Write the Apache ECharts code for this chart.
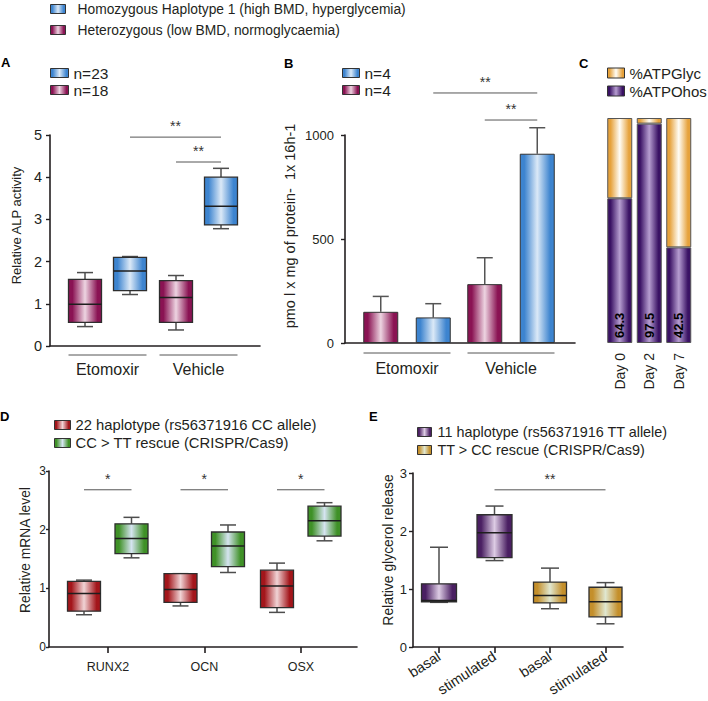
<!DOCTYPE html>
<html><head><meta charset="utf-8">
<script src="https://cdn.jsdelivr.net/npm/echarts@6/dist/echarts.min.js"></script>
<style>html,body{margin:0;padding:0;background:#fff}#c{width:708px;height:701px}</style>
</head><body><div id="c"></div>
<script>
// ---------------- Data ----------------
const groupsAB = ['Etomoxir', 'Vehicle'];
const homName = 'Homozygous Haplotype 1 (high BMD, hyperglycemia)';
const hetName = 'Heterozygous (low BMD, normoglycaemia)';
// Panel A: relative ALP activity, box = [min, Q1, median, Q3, max]
const alpHom = [[1.22, 1.31, 1.78, 2.10, 2.12], [2.78, 2.87, 3.31, 4.00, 4.21]];
const alpHet = [[0.46, 0.56, 0.99, 1.58, 1.74], [0.38, 0.56, 1.15, 1.55, 1.67]];
const nA = ['n=23', 'n=18'];
// Panel B: oxidation (mean, error)
const oxHom = [123, 910];
const oxHomErr = [66, 125];
const oxHet = [150, 283];
const oxHetErr = [74, 127];
const nB = ['n=4', 'n=4'];
// Panel C: ATP sources (%)
const days = ['Day 0', 'Day 2', 'Day 7'];
const atpOhos = [64.3, 97.5, 42.5];
const atpGlyc = [35.7, 2.5, 57.5];
// Panel D: relative mRNA level, box = [min, Q1, median, Q3, max]
const genes = ['RUNX2', 'OCN', 'OSX'];
const mrnaCC = [[0.55, 0.61, 0.91, 1.12, 1.14], [0.70, 0.76, 0.98, 1.25, 1.25], [0.59, 0.67, 1.04, 1.31, 1.43]];
const mrnaTT = [[1.52, 1.59, 1.85, 2.10, 2.21], [1.27, 1.37, 1.72, 1.96, 2.08], [1.81, 1.89, 2.15, 2.40, 2.46]];
// Panel E: relative glycerol release, box = [min, Q1, median, Q3, max]
const conditions = ['basal', 'stimulated', 'basal', 'stimulated'];
const glycTT = [[0.77, 0.78, 0.80, 1.09, 1.72], [1.49, 1.54, 1.97, 2.28, 2.43]];   // categories 0,1
const glycCC = [[0.66, 0.76, 0.89, 1.12, 1.36], [0.40, 0.52, 0.78, 1.03, 1.11]];   // categories 2,3
// Significance bars: [fromCategory, fromSlot, toCategory, toSlot, height]
const sigA = [[0, 1, 1, 1, 4.95], [1, 0, 1, 1, 4.36]];
const sigALabels = ['**', '**'];
const sigB = [[0, 1, 1, 1, 1202], [1, 0, 1, 1, 1072]];
const sigBLabels = ['**', '**'];
const sigD = [[0, 0, 0, 1, 2.68], [1, 0, 1, 1, 2.68], [2, 0, 2, 1, 2.68]];
const sigDLabels = ['*', '*', '*'];
const sigE = [[1, 0, 3, 0, 2.71]];
const sigELabels = ['**'];

// ---------------- Styling helpers ----------------
const FONT = 'Liberation Sans, Arial, Helvetica, sans-serif';
const INK = '#231f20';
const C = {
  blue: ['#3d84cf', '#dbe9f7'],
  mag: ['#8a1353', '#edd4e1'],
  red: ['#a3161b', '#f0d3d5'],
  green: ['#3f9127', '#d5e4f0'],
  purp: ['#4a1f62', '#ddcce4'],
  gold: ['#c48f2b', '#e0e7d0'],
  cPurp: ['#3a1264', '#b69dd0'],
  cOr: ['#e6a23c', '#fffdf6']
};
function grad(c) {
  return new echarts.graphic.LinearGradient(0, 0, 1, 0, [
    { offset: 0, color: c[0] }, { offset: 0.12, color: c[0] },
    { offset: 0.5, color: c[1] },
    { offset: 0.88, color: c[0] }, { offset: 1, color: c[0] }
  ]);
}
function legendItem(name, c) {
  return { name: name, icon: 'rect', itemStyle: { color: grad(c), borderColor: '#333', borderWidth: 1 } };
}

function boxRender(offset, w, cap, c) {
  return function (params, api) {
    const cat = api.value(0);
    const x = api.coord([cat, 0])[0] + offset;
    const y = (d) => api.coord([cat, api.value(d)])[1];
    const yMin = y(1), yQ1 = y(2), yMed = y(3), yQ3 = y(4), yMax = y(5);
    const wl = { stroke: '#4d4d4d', lineWidth: 1.5 };
    return {
      type: 'group', children: [
        { type: 'line', shape: { x1: x, y1: yMax, x2: x, y2: yQ3 }, style: wl },
        { type: 'line', shape: { x1: x, y1: yQ1, x2: x, y2: yMin }, style: wl },
        { type: 'line', shape: { x1: x - cap / 2, y1: yMax, x2: x + cap / 2, y2: yMax }, style: wl },
        { type: 'line', shape: { x1: x - cap / 2, y1: yMin, x2: x + cap / 2, y2: yMin }, style: wl },
        { type: 'rect', shape: { x: x - w / 2, y: yQ3, width: w, height: yQ1 - yQ3 }, style: { fill: grad(c), stroke: '#2e2e2e', lineWidth: 1.3 } },
        { type: 'line', shape: { x1: x - w / 2, y1: yMed, x2: x + w / 2, y2: yMed }, style: { stroke: '#1e1e1e', lineWidth: 1.5 } }
      ]
    };
  };
}
function sigRender(slots, labels, fs) {
  return function (params, api) {
    const p1 = api.coord([api.value(0), api.value(4)]);
    const p2 = api.coord([api.value(2), api.value(4)]);
    const x1 = p1[0] + slots[api.value(1)], x2 = p2[0] + slots[api.value(3)];
    return {
      type: 'group', children: [
        { type: 'line', shape: { x1: x1, y1: p1[1], x2: x2, y2: p1[1] }, style: { stroke: '#555', lineWidth: 1 } },
        { type: 'text', style: { text: labels[params.dataIndex], x: (x1 + x2) / 2, y: p1[1] - 4, align: 'center', verticalAlign: 'bottom', fill: '#333', font: fs + 'px ' + FONT } }
      ]
    };
  };
}
function underlineRender(half, gap) {
  return function (params, api) {
    const p = api.coord([api.value(0), 0]);
    return { type: 'line', shape: { x1: p[0] - half, y1: p[1] + gap, x2: p[0] + half, y2: p[1] + gap }, style: { stroke: '#555', lineWidth: 1 } };
  };
}
function errRender(offset, cap) {
  return function (params, api) {
    const cat = api.value(0);
    const p0 = api.coord([cat, api.value(1)]);
    const p1 = api.coord([cat, api.value(1) + api.value(2)]);
    const x = p0[0] + offset;
    const st = { stroke: '#555', lineWidth: 1.5 };
    return {
      type: 'group', children: [
        { type: 'line', shape: { x1: x, y1: p0[1], x2: x, y2: p1[1] }, style: st },
        { type: 'line', shape: { x1: x - cap / 2, y1: p1[1], x2: x + cap / 2, y2: p1[1] }, style: st }
      ]
    };
  };
}
const boxData = (arr, start) => arr.map((v, i) => [i + (start || 0)].concat(v));

// ---------------- Axes ----------------
function frameX(gi) {
  return { type: 'value', gridIndex: gi, min: 0, max: 1, axisLine: { show: true, lineStyle: { color: INK, width: 1.6 } }, axisTick: { show: false }, axisLabel: { show: false }, splitLine: { show: false } };
}
function hiddenY(gi, max) {
  return { type: 'value', gridIndex: gi, min: 0, max: max, show: false, splitLine: { show: false } };
}
function frameY(gi, max, interval, labelFs, margin, tickLen, name, nameFs, nameGap, shift) {
  return {
    type: 'value', gridIndex: gi, min: 0, max: max, interval: interval,
    axisLine: { show: true, lineStyle: { color: INK, width: 1.6 } },
    axisTick: { show: true, length: tickLen, lineStyle: { color: INK, width: 1.4 } },
    axisLabel: { fontSize: labelFs, color: INK, margin: margin, fontFamily: FONT, formatter: v => String(v) },
    splitLine: { show: false },
    name: name, nameLocation: 'middle', nameGap: nameGap, nameRotate: 90,
    nameTextStyle: { fontSize: nameFs, color: INK, fontFamily: FONT, padding: [0, 0, 0, shift * 2] }
  };
}

const option = {
  animation: false,
  backgroundColor: '#fff',
  textStyle: { fontFamily: FONT },
  title: [
    { text: 'A', left: 1, top: 56 }, { text: 'B', left: 284, top: 57 }, { text: 'C', left: 579, top: 57 },
    { text: 'D', left: 0, top: 410 }, { text: 'E', left: 369, top: 410 }
  ].map(t => Object.assign(t, { padding: 0, textStyle: { fontSize: 13, fontWeight: 'bold', color: '#000', fontFamily: FONT } })),
  legend: [
    { left: 50, top: 1, orient: 'vertical', padding: 0, itemWidth: 15, itemHeight: 9, itemGap: 5, selectedMode: false,
      textStyle: { fontSize: 13.8, color: INK, lineHeight: 16, padding: [0, 0, 0, 7] },
      data: [legendItem(homName, C.blue), legendItem(hetName, C.mag)] },
    { left: 50, top: 65, orient: 'vertical', padding: 0, itemWidth: 18, itemHeight: 9, itemGap: 1, selectedMode: false,
      textStyle: { fontSize: 15.5, color: INK, lineHeight: 16 },
      formatter: n => (n === homName ? nA[0] : nA[1]),
      data: [legendItem(homName, C.blue), legendItem(hetName, C.mag)] },
    { left: 342, top: 65, orient: 'vertical', padding: 0, itemWidth: 17, itemHeight: 9, itemGap: 1, selectedMode: false,
      textStyle: { fontSize: 15.5, color: INK, lineHeight: 16 },
      formatter: n => (n === 'Homozygous (B)' ? nB[0] : nB[1]),
      data: [legendItem('Homozygous (B)', C.blue), legendItem('Heterozygous (B)', C.mag)] },
    { left: 607, top: 65, orient: 'vertical', padding: 0, itemWidth: 17, itemHeight: 10, itemGap: 2, selectedMode: false,
      textStyle: { fontSize: 15, color: INK, lineHeight: 16 },
      data: [legendItem('%ATPGlyc', C.cOr), legendItem('%ATPOhos', C.cPurp)] },
    { left: 54, top: 417, orient: 'vertical', padding: 0, itemWidth: 16, itemHeight: 9, itemGap: 2, selectedMode: false,
      textStyle: { fontSize: 14.8, color: INK, lineHeight: 16 },
      data: [legendItem('22 haplotype (rs56371916 CC allele)', C.red), legendItem('CC > TT rescue (CRISPR/Cas9)', C.green)] },
    { left: 417, top: 424, orient: 'vertical', padding: 0, itemWidth: 14, itemHeight: 9, itemGap: 2, selectedMode: false,
      textStyle: { fontSize: 14.4, color: INK, lineHeight: 16, padding: [0, 0, 0, 1] },
      data: [legendItem('11 haplotype (rs56371916 TT allele)', C.purp), legendItem('TT > CC rescue (CRISPR/Cas9)', C.gold)] }
  ],
  grid: [
    { left: 50, top: 135, width: 210, height: 211 },      // 0 A frame
    { left: 62, top: 135, width: 182, height: 211 },      // 1 A data
    { left: 345, top: 135, width: 230, height: 208 },     // 2 B frame
    { left: 355, top: 135, width: 208, height: 208 },     // 3 B data
    { left: 605, top: 118, width: 88.5, height: 225 },    // 4 C
    { left: 49, top: 471, width: 308, height: 176 },      // 5 D frame
    { left: 59.75, top: 471, width: 289.5, height: 176 }, // 6 D data
    { left: 413, top: 473, width: 210, height: 174 },     // 7 E frame
    { left: 411.25, top: 473, width: 222, height: 174 }   // 8 E data
  ],
  xAxis: [
    frameX(0),
    { type: 'category', gridIndex: 1, data: groupsAB, axisLine: { show: false }, axisTick: { show: false }, axisLabel: { fontSize: 16, color: INK, margin: 15 } },
    frameX(2),
    { type: 'category', gridIndex: 3, data: groupsAB, axisLine: { show: false }, axisTick: { show: false }, axisLabel: { fontSize: 16, color: INK, margin: 17 } },
    { type: 'category', gridIndex: 4, data: days, axisLine: { show: false }, axisTick: { show: false }, axisLabel: { fontSize: 14, color: INK, margin: 10, rotate: 90 } },
    frameX(5),
    { type: 'category', gridIndex: 6, data: genes, axisLine: { show: false }, axisTick: { show: true, alignWithLabel: true, length: 6, lineStyle: { color: INK, width: 1.6 } }, axisLabel: { fontSize: 12.5, color: INK, margin: 13 } },
    frameX(7),
    { type: 'category', gridIndex: 8, data: conditions, axisLine: { show: false }, axisTick: { show: true, alignWithLabel: true, length: 6, lineStyle: { color: INK, width: 1.6 } }, axisLabel: { fontSize: 14.5, color: INK, margin: 8, rotate: 33 } }
  ],
  yAxis: [
    frameY(0, 5, 1, 14.5, 8, 4, 'Relative ALP activity', 13, 27, 15),
    hiddenY(1, 5),
    frameY(2, 1000, 500, 13, 11, 4, 'pmo l x mg of protein-  1x 16h-1', 14.5, 48, 13),
    hiddenY(3, 1000),
    hiddenY(4, 100),
    frameY(5, 3, 1, 12, 3, 3, 'Relative mRNA level', 13.8, 17, 9),
    hiddenY(6, 3),
    frameY(7, 3, 1, 13, 6, 4, 'Relative glycerol release', 13.9, 18, 10),
    hiddenY(8, 3)
  ],
  series: [
    // ---- Panel A ----
    { type: 'custom', name: hetName, xAxisIndex: 1, yAxisIndex: 1, renderItem: boxRender(-22.5, 33, 16, C.mag), data: boxData(alpHet), encode: { x: 0, y: [1, 2, 3, 4, 5] }, itemStyle: { color: C.mag[0] }, z: 3 },
    { type: 'custom', name: homName, xAxisIndex: 1, yAxisIndex: 1, renderItem: boxRender(22.5, 33, 16, C.blue), data: boxData(alpHom), encode: { x: 0, y: [1, 2, 3, 4, 5] }, itemStyle: { color: C.blue[0] }, z: 3 },
    { type: 'custom', name: 'sigA', xAxisIndex: 1, yAxisIndex: 1, renderItem: sigRender([-22.5, 22.5], sigALabels, 14), data: sigA, encode: { x: [0, 2], y: 4 }, silent: true },
    { type: 'custom', name: 'groupsA', xAxisIndex: 1, yAxisIndex: 1, renderItem: underlineRender(39, 9), data: groupsAB.map((g, i) => [i, 0]), encode: { x: 0, y: 1 }, silent: true },
    // ---- Panel B ----
    { type: 'bar', name: 'Heterozygous (B)', xAxisIndex: 3, yAxisIndex: 3, data: oxHet, barWidth: 35, barGap: '50%', itemStyle: { color: grad(C.mag), borderColor: '#333', borderWidth: 1 } },
    { type: 'bar', name: 'Homozygous (B)', xAxisIndex: 3, yAxisIndex: 3, data: oxHom, barWidth: 35, barGap: '50%', itemStyle: { color: grad(C.blue), borderColor: '#333', borderWidth: 1 } },
    { type: 'custom', name: 'errHet', xAxisIndex: 3, yAxisIndex: 3, renderItem: errRender(-26.25, 16), data: oxHet.map((v, i) => [i, v, oxHetErr[i]]), encode: { x: 0, y: 1 }, silent: true, z: 1 },
    { type: 'custom', name: 'errHom', xAxisIndex: 3, yAxisIndex: 3, renderItem: errRender(26.25, 16), data: oxHom.map((v, i) => [i, v, oxHomErr[i]]), encode: { x: 0, y: 1 }, silent: true, z: 1 },
    { type: 'custom', name: 'sigB', xAxisIndex: 3, yAxisIndex: 3, renderItem: sigRender([-26.25, 26.25], sigBLabels, 14), data: sigB, encode: { x: [0, 2], y: 4 }, silent: true },
    { type: 'custom', name: 'groupsB', xAxisIndex: 3, yAxisIndex: 3, renderItem: underlineRender(43.5, 10), data: groupsAB.map((g, i) => [i, 0]), encode: { x: 0, y: 1 }, silent: true },
    // ---- Panel C ----
    { type: 'bar', name: '%ATPOhos', xAxisIndex: 4, yAxisIndex: 4, stack: 'atp', data: atpOhos, barWidth: 25,
      itemStyle: { color: grad(C.cPurp), borderColor: '#555', borderWidth: 1 },
      label: { show: true, position: 'insideBottom', rotate: 90, align: 'left', verticalAlign: 'middle', distance: 5, fontSize: 13, fontWeight: 'bold', color: '#000', textBorderWidth: 0, formatter: p => p.value.toFixed(1) } },
    { type: 'bar', name: '%ATPGlyc', xAxisIndex: 4, yAxisIndex: 4, stack: 'atp', data: atpGlyc, barWidth: 25,
      itemStyle: { color: grad(C.cOr), borderColor: '#555', borderWidth: 1 } },
    // ---- Panel D ----
    { type: 'custom', name: '22 haplotype (rs56371916 CC allele)', xAxisIndex: 6, yAxisIndex: 6, renderItem: boxRender(-24, 33, 16, C.red), data: boxData(mrnaCC), encode: { x: 0, y: [1, 2, 3, 4, 5] }, itemStyle: { color: C.red[0] } },
    { type: 'custom', name: 'CC > TT rescue (CRISPR/Cas9)', xAxisIndex: 6, yAxisIndex: 6, renderItem: boxRender(23.5, 33, 16, C.green), data: boxData(mrnaTT), encode: { x: 0, y: [1, 2, 3, 4, 5] }, itemStyle: { color: C.green[0] } },
    { type: 'custom', name: 'sigD', xAxisIndex: 6, yAxisIndex: 6, renderItem: sigRender([-24, 23.5], sigDLabels, 14), data: sigD, encode: { x: [0, 2], y: 4 }, silent: true },
    // ---- Panel E ----
    { type: 'custom', name: '11 haplotype (rs56371916 TT allele)', xAxisIndex: 8, yAxisIndex: 8, renderItem: boxRender(0, 35, 18, C.purp), data: boxData(glycTT, 0), encode: { x: 0, y: [1, 2, 3, 4, 5] }, itemStyle: { color: C.purp[0] } },
    { type: 'custom', name: 'TT > CC rescue (CRISPR/Cas9)', xAxisIndex: 8, yAxisIndex: 8, renderItem: boxRender(0, 33, 18, C.gold), data: boxData(glycCC, 2), encode: { x: 0, y: [1, 2, 3, 4, 5] }, itemStyle: { color: C.gold[0] } },
    { type: 'custom', name: 'sigE', xAxisIndex: 8, yAxisIndex: 8, renderItem: sigRender([0, 0], sigELabels, 14), data: sigE, encode: { x: [0, 2], y: 4 }, silent: true }
  ]
};
const chart = echarts.init(document.getElementById('c'), null, { renderer: 'svg', width: 708, height: 701 });
chart.setOption(option);
</script>
</body></html>
